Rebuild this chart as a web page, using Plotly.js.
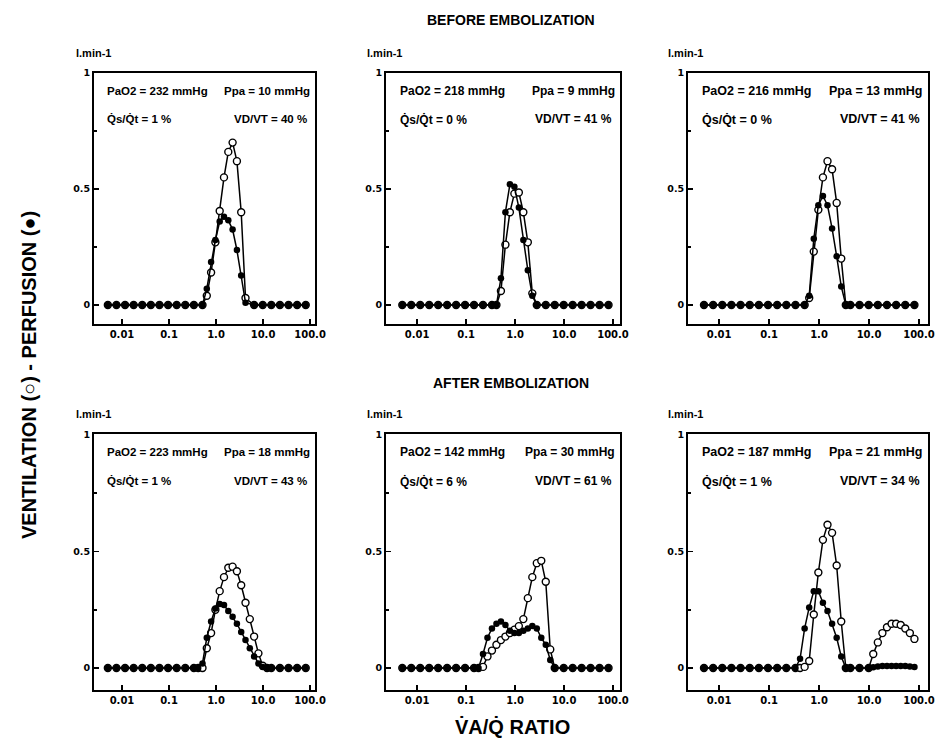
<!DOCTYPE html>
<html><head><meta charset="utf-8">
<script src="https://cdn.plot.ly/plotly-3.0.1.min.js"></script>
<style>html,body{margin:0;padding:0;background:#fff}#chart{width:937px;height:746px}</style>
</head><body><div id="chart"></div>
<script>
// MIGET compartments (VA/Q ratio), log-spaced 0.005 .. 100
const COMPARTMENTS = [0.005,0.006175,0.007622,0.009409,0.01161,0.01434,0.0177,0.02185,0.02697,0.0333,
 0.04111,0.05075,0.06265,0.07735,0.09553,0.1179,0.1456,0.1797,0.2219,0.274,
 0.3382,0.4175,0.5155,0.6364,0.7855,0.97,1.197,1.478,1.825,2.253,
 2.782,3.434,4.24,5.235,6.463,7.979,9.849,12.16,15.01,18.53,
 22.88,28.25,34.87,43.05,53.15,65.62,81.01,100];

const X_TICKS = [0.01,0.1,1,10,100];
const X_TICKTEXT = ['0.01','0.1','1.0','10.0','100.0'];
const Y_TICKS = [0,0.5,1];
const Y_TICKTEXT = ['0','0.5','1'];

// Panel 1 - before embolization
const P1_IDX  = [0,2,4,6,8,10,12,14,16,18,20,22, 23,24,25,26,27,28,29,30,31,32, 34,36,38,40,42,44,46];
const P1_PERF = [0,0,0,0,0,0,0,0,0,0,0,0, 0.07,0.185,0.28,0.36,0.38,0.365,0.325,0.237,0.127,0.01, 0,0,0,0,0,0,0];
const P1_VENT = [0,0,0,0,0,0,0,0,0,0,0,0, 0.04,0.14,0.27,0.405,0.55,0.66,0.70,0.62,0.40,0.03, 0,0,0,0,0,0,0];
const P1_TEXT = ['PaO2 = 232 mmHg','Ppa = 10 mmHg','Q̇s/Q̇t = 1 %','VD/VT = 40 %'];

// Panel 2
const P2_IDX  = [0,2,4,6,8,10,12,14,16,18,20, 21,22,23,24,25,26,27,28,29, 30,32,34,36,38,40,42,44,46];
const P2_PERF = [0,0,0,0,0,0,0,0,0,0,0, 0,0.115,0.40,0.52,0.51,0.42,0.28,0.15,0.04, 0,0,0,0,0,0,0,0,0];
const P2_VENT = [0,0,0,0,0,0,0,0,0,0,0, 0,0.06,0.26,0.40,0.48,0.485,0.40,0.27,0.05, 0,0,0,0,0,0,0,0,0];
const P2_TEXT = ['PaO2 = 218 mmHg','Ppa = 9 mmHg','Q̇s/Q̇t = 0 %','VD/VT = 41 %'];

// Panel 3
const P3_IDX  = [0,2,4,6,8,10,12,14,16,18,20,22, 23,24,25,26,27,28,29,30, 31, 32,34,36,38,40,42,44,46];
const P3_PERF = [0,0,0,0,0,0,0,0,0,0,0,0, 0.04,0.285,0.43,0.47,0.43,0.33,0.21,0.08, 0, 0,0,0,0,0,0,0,0];
const P3_VENT = [0,0,0,0,0,0,0,0,0,0,0,0, 0.03,0.23,0.41,0.55,0.62,0.585,0.44,0.20, 0, 0,0,0,0,0,0,0,0];
const P3_TEXT = ['PaO2 = 216 mmHg','Ppa = 13 mmHg','Q̇s/Q̇t = 0 %','VD/VT = 41 %'];

// Panel 4 - after embolization
const P4_IDX  = [0,2,4,6,8,10,12,14,16,18,20, 21, 22,23,24,25,26,27,28,29,30,31,32,33,34,35,36, 37, 38,40,42,44,46];
const P4_PERF = [0,0,0,0,0,0,0,0,0,0,0, 0, 0.02,0.13,0.20,0.255,0.275,0.27,0.245,0.22,0.19,0.155,0.12,0.085,0.05,0.02,0.005, 0, 0,0,0,0,0];
const P4_VENT = [0,0,0,0,0,0,0,0,0,0,0, 0, 0,0.085,0.15,0.25,0.33,0.39,0.43,0.435,0.415,0.355,0.28,0.21,0.135,0.063,0.01, 0, 0,0,0,0,0];
const P4_TEXT = ['PaO2 = 223 mmHg','Ppa = 18 mmHg','Q̇s/Q̇t = 1 %','VD/VT = 43 %'];

// Panel 5
const P5_IDX  = [0,2,4,6,8,10,12,14,16, 17, 18,19,20,21,22,23,24,25,26,27,28,29,30,31,32,33, 34,36,38,40,42,44,46];
const P5_PERF = [0,0,0,0,0,0,0,0,0, 0, 0.06,0.13,0.17,0.19,0.20,0.185,0.16,0.15,0.15,0.16,0.17,0.18,0.17,0.13,0.10,0.035, 0,0,0,0,0,0,0];
const P5_VENT = [0,0,0,0,0,0,0,0,0, 0, 0.005,0.05,0.075,0.10,0.12,0.135,0.15,0.165,0.18,0.21,0.30,0.39,0.45,0.46,0.37,0.08, 0,0,0,0,0,0,0];
const P5_TEXT = ['PaO2 = 142 mmHg','Ppa = 30 mmHg','Q̇s/Q̇t = 6 %','VD/VT = 61 %'];

// Panel 6
const P6_IDX  = [0,2,4,6,8,10,12,14,16,18,20, 21,22,23,24,25,26,27,28,29,30, 31,32,34,36, 37,38,39,40,41,42,43,44,45,46];
const P6_PERF = [0,0,0,0,0,0,0,0,0,0,0, 0.04,0.17,0.26,0.33,0.33,0.28,0.245,0.19,0.13,0.05, 0,0,0,0, 0.004,0.007,0.009,0.009,0.009,0.009,0.009,0.009,0.007,0.005];
const P6_VENT = [0,0,0,0,0,0,0,0,0,0,0, 0,0.005,0.03,0.23,0.41,0.55,0.615,0.58,0.44,0.20, 0,0,0,0, 0.06,0.11,0.15,0.175,0.19,0.19,0.185,0.17,0.15,0.125];
const P6_TEXT = ['PaO2 = 187 mmHg','Ppa = 21 mmHg','Q̇s/Q̇t = 1 %','VD/VT = 34 %'];

const PANELS = [
  {idx:P1_IDX, perf:P1_PERF, vent:P1_VENT, text:P1_TEXT},
  {idx:P2_IDX, perf:P2_PERF, vent:P2_VENT, text:P2_TEXT},
  {idx:P3_IDX, perf:P3_PERF, vent:P3_VENT, text:P3_TEXT},
  {idx:P4_IDX, perf:P4_PERF, vent:P4_VENT, text:P4_TEXT},
  {idx:P5_IDX, perf:P5_PERF, vent:P5_VENT, text:P5_TEXT},
  {idx:P6_IDX, perf:P6_PERF, vent:P6_VENT, text:P6_TEXT}
];

// ---- layout geometry ----
const COL_DOM = [[0.1003,0.3362],[0.4120,0.6617],[0.7343,0.9904]];
const COL_RNG = [[-2.596,2.106],[-2.633,2.143],[-2.62,2.18]];
const ROW_DOM = [[0.5657,0.9021],[0.0751,0.4182]];
const ROW_RNG = [[-0.082,1.0],[-0.094,1.004]];
const COL_TXT = [11.5,12,12.5];

const FONT = 'Liberation Sans, Arial, sans-serif';
const TICKFONT = 'DejaVu Sans, Liberation Sans, sans-serif';

const traces = [];
const layout = {
  width:937, height:746, margin:{l:0,r:0,t:0,b:0},
  paper_bgcolor:'#fff', plot_bgcolor:'#fff', showlegend:false,
  annotations:[], font:{family:FONT, color:'#000'}
};

PANELS.forEach((p,i)=>{
  const n = i+1, row = Math.floor(i/3), col = i%3;
  const xa = n===1?'x':'x'+n, ya = n===1?'y':'y'+n;
  const xs = p.idx.map(k=>COMPARTMENTS[k]);
  traces.push({x:xs, y:p.vent, xaxis:xa, yaxis:ya, mode:'lines+markers', type:'scatter',
    line:{color:'#000', width:1.5},
    marker:{symbol:'circle', size:7, color:'#fff', line:{color:'#000', width:1.4}},
    hoverinfo:'skip'});
  traces.push({x:xs, y:p.perf, xaxis:xa, yaxis:ya, mode:'lines+markers', type:'scatter',
    line:{color:'#000', width:1.5},
    marker:{symbol:'circle', size:6.5, color:'#000'},
    hoverinfo:'skip'});
  layout['xaxis'+(n===1?'':n)] = {
    type:'log', domain:COL_DOM[col], range:COL_RNG[col], anchor:ya,
    tickmode:'array', tickvals:X_TICKS, ticktext:X_TICKTEXT,
    ticks:'inside', ticklen:5, tickwidth:1.5, tickcolor:'#000',
    showline:true, linewidth:2, linecolor:'#000', mirror:true,
    showgrid:false, zeroline:false,
    tickfont:{family:TICKFONT, size:10, color:'#000', weight:'bold'}
  };
  layout['yaxis'+(n===1?'':n)] = {
    domain:ROW_DOM[row], range:ROW_RNG[row], anchor:xa,
    tickmode:'array', tickvals:Y_TICKS, ticktext:Y_TICKTEXT,
    ticks:'inside', ticklen:5, tickwidth:1.5, tickcolor:'#000',
    minor:{tickmode:'array', tickvals:[0.25,0.75], ticks:'inside', ticklen:3, tickwidth:1.5, tickcolor:'#000'},
    showline:true, linewidth:2, linecolor:'#000', mirror:true,
    showgrid:false, zeroline:false,
    tickfont:{family:TICKFONT, size:9.5, color:'#000', weight:'bold'}
  };
  const xr = xa+' domain', yr = ya+' domain';
  const f = {family:FONT, size:COL_TXT[col], color:'#000', weight:'bold'};
  const ann = layout.annotations;
  ann.push({xref:xr, yref:yr, x:0.05, y:0.93, xanchor:'left', yanchor:'middle', showarrow:false, text:p.text[0], font:f});
  ann.push({xref:xr, yref:yr, x:0.985, y:0.93, xanchor:'right', yanchor:'middle', showarrow:false, text:p.text[1], font:f});
  ann.push({xref:xr, yref:yr, x:0.05, y:0.815, xanchor:'left', yanchor:'middle', showarrow:false, text:p.text[2], font:f});
  ann.push({xref:xr, yref:yr, x:0.975, y:0.815, xanchor:'right', yanchor:'middle', showarrow:false, text:p.text[3], font:f});
  ann.push({xref:xr, yref:yr, x:-0.09, y:1.08, xanchor:'left', yanchor:'middle', showarrow:false, text:'l.min-1',
    font:{family:FONT, size:11, color:'#000', weight:'bold'}});
});

layout.annotations.push(
  {xref:'paper', yref:'paper', x:0.545, y:1-20/746, xanchor:'center', yanchor:'middle', showarrow:false,
   text:'BEFORE EMBOLIZATION', font:{family:FONT, size:14, color:'#000', weight:'bold'}},
  {xref:'paper', yref:'paper', x:0.545, y:1-383/746, xanchor:'center', yanchor:'middle', showarrow:false,
   text:'AFTER EMBOLIZATION', font:{family:FONT, size:14, color:'#000', weight:'bold'}},
  {xref:'paper', yref:'paper', x:29/937, y:1-375/746, xanchor:'center', yanchor:'middle', showarrow:false, textangle:-90,
   text:'VENTILATION (○) - PERFUSION (●)', font:{family:FONT, size:20, color:'#000', weight:'bold'}},
  {xref:'paper', yref:'paper', x:512/937, y:1-726/746, xanchor:'center', yanchor:'middle', showarrow:false,
   text:'V̇A/Q̇ RATIO', font:{family:FONT, size:20, color:'#000', weight:'bold'}}
);

Plotly.newPlot('chart', traces, layout, {staticPlot:true, displayModeBar:false});
</script></body></html>
